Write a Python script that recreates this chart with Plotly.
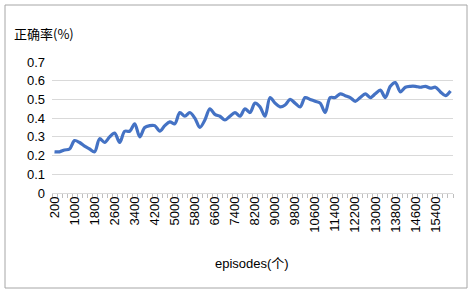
import plotly.graph_objects as go

episodes = list(range(200, 16001, 200))
accuracy = [
    0.22, 0.22, 0.23, 0.235, 0.28, 0.27, 0.25, 0.235, 0.22, 0.29,
    0.27, 0.30, 0.32, 0.27, 0.33, 0.33, 0.37, 0.30, 0.35, 0.36,
    0.36, 0.33, 0.36, 0.38, 0.37, 0.43, 0.41, 0.43, 0.40, 0.35,
    0.39, 0.45, 0.42, 0.41, 0.39, 0.41, 0.43, 0.41, 0.45, 0.43,
    0.48, 0.46, 0.41, 0.51, 0.48, 0.46, 0.47, 0.50, 0.48, 0.46,
    0.51, 0.50, 0.49, 0.48, 0.43, 0.51, 0.51, 0.53, 0.52, 0.51,
    0.49, 0.51, 0.53, 0.51, 0.53, 0.55, 0.51, 0.57, 0.59, 0.54,
    0.565, 0.57, 0.57, 0.565, 0.57, 0.56, 0.565, 0.54, 0.52, 0.545,
]
x_tick_vals = list(range(200, 16001, 800))
x_tick_text = [str(v) for v in x_tick_vals]
y_tick_vals = [0, 0.1, 0.2, 0.3, 0.4, 0.5, 0.6, 0.7]
y_tick_text = ["0", "0.1", "0.2", "0.3", "0.4", "0.5", "0.6", "0.7"]

W, H = 472, 295
L, R, T, B = 52, 19, 62, 102
pw, ph = W - L - R, H - T - B

fig = go.Figure()
fig.add_trace(go.Scatter(
    x=episodes, y=accuracy, mode="lines",
    line=dict(color="#4472C4", width=3.2, shape="spline", smoothing=0.9),
    showlegend=False, hoverinfo="x+y",
))

font_lat = "Liberation Sans, Noto Sans CJK SC, sans-serif"
fig.update_layout(
    width=W, height=H,
    margin=dict(l=L, r=R, t=T, b=B, pad=0),
    paper_bgcolor="white", plot_bgcolor="white",
    font=dict(family=font_lat, size=13, color="#000000"),
    xaxis=dict(
        range=[100, 16100], tickmode="array",
        tickvals=x_tick_vals, ticktext=x_tick_text, tickangle=-90,
        showgrid=False, zeroline=False, showline=False,
        ticks="",
        minor=dict(ticks="outside", tick0=100, dtick=200, ticklen=4,
                   tickcolor="#BFBFBF", tickwidth=1, showgrid=False),
        tickfont=dict(size=13),
    ),
    yaxis=dict(
        range=[0, 0.7], tickmode="array",
        tickvals=y_tick_vals, ticktext=y_tick_text,
        showgrid=True, gridcolor="#D9D9D9", gridwidth=1,
        zeroline=True, zerolinecolor="#D9D9D9", zerolinewidth=1,
        showline=False, ticks="", ticklabelstandoff=6,
        tickfont=dict(size=13),
    ),
)

fig.add_annotation(
    text="正确率(%)", xref="paper", yref="paper",
    x=(12 - L) / pw, y=(H - B - 33) / ph, xanchor="left", yanchor="middle",
    showarrow=False, font=dict(family="Noto Sans CJK SC", size=13, color="#000000"),
)
fig.add_annotation(
    text="episodes(个)", xref="paper", yref="paper",
    x=(252 - L) / pw, y=(H - B - 263) / ph, xanchor="center", yanchor="middle",
    showarrow=False, font=dict(family="Liberation Sans, Noto Sans CJK SC", size=13, color="#000000"),
)
fig.add_shape(
    type="rect", xref="paper", yref="paper",
    x0=(5 - L) / pw, x1=(467 - L) / pw,
    y0=(H - B - 288) / ph, y1=(H - B - 5) / ph,
    line=dict(color="#A6A6A6", width=1), fillcolor="rgba(0,0,0,0)", layer="below",
)

fig.write_html(
    "out.html",
    config={"displayModeBar": False},
    post_script="document.body.style.margin='0';document.body.style.padding='0';",
)
